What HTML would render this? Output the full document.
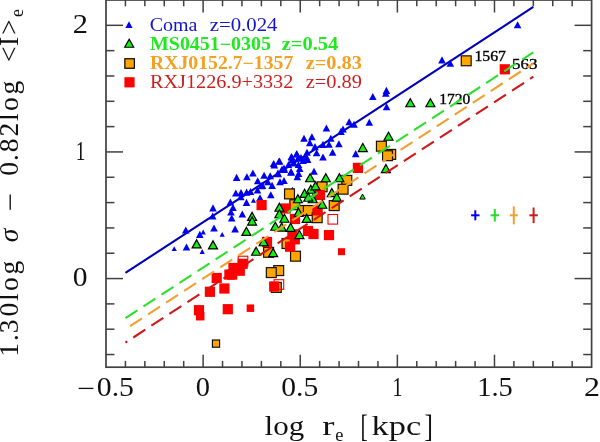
<!DOCTYPE html>
<html><head><meta charset="utf-8"><title>Fundamental plane</title>
<style>html,body{margin:0;padding:0;background:#fff;width:600px;height:442px;overflow:hidden}svg{display:block;will-change:transform}</style>
</head><body>
<svg xml:space="preserve" width="600" height="442" viewBox="0 0 600 442">
<polygon points="125.40,27.95 132.60,27.95 129.00,21.25" fill="#0000f0"/>
<polygon points="124.70,47.25 133.70,47.25 129.20,39.15" fill="#14f014" stroke="#000" stroke-width="1.2" stroke-linejoin="miter"/>
<rect x="124.85" y="58.75" width="9.5" height="9.5" fill="#ffa500" stroke="#000" stroke-width="1.2"/>
<rect x="124.40" y="77.20" width="10.2" height="10.2" fill="#ff0000"/>
<text x="149.7" y="30.5" textLength="47.8" lengthAdjust="spacingAndGlyphs" style="font-family:'Liberation Serif',serif;font-size:17.8px;fill:#1414c8">Coma</text>
<text x="209.7" y="30.5" textLength="67.8" lengthAdjust="spacingAndGlyphs" style="font-family:'Liberation Serif',serif;font-size:17.8px;fill:#1414c8">z=0.024</text>
<text x="150" y="50" textLength="121" lengthAdjust="spacingAndGlyphs" style="font-family:'Liberation Serif',serif;font-size:17.8px;fill:#22e822;font-weight:bold">MS0451−0305</text>
<text x="281.7" y="50" textLength="56.6" lengthAdjust="spacingAndGlyphs" style="font-family:'Liberation Serif',serif;font-size:17.8px;fill:#22e822;font-weight:bold">z=0.54</text>
<text x="150" y="68.7" textLength="143.3" lengthAdjust="spacingAndGlyphs" style="font-family:'Liberation Serif',serif;font-size:17.8px;fill:#f4a020;font-weight:bold">RXJ0152.7−1357</text>
<text x="305.7" y="68.7" textLength="56.3" lengthAdjust="spacingAndGlyphs" style="font-family:'Liberation Serif',serif;font-size:17.8px;fill:#f4a020;font-weight:bold">z=0.83</text>
<text x="150" y="87.5" textLength="143.3" lengthAdjust="spacingAndGlyphs" style="font-family:'Liberation Serif',serif;font-size:17.8px;fill:#d01e1e">RXJ1226.9+3332</text>
<text x="305.7" y="87.5" textLength="56.3" lengthAdjust="spacingAndGlyphs" style="font-family:'Liberation Serif',serif;font-size:17.8px;fill:#d01e1e">z=0.89</text>
<line x1="471.1" y1="215.3" x2="479.5" y2="215.3" stroke="#0000f0" stroke-width="2"/><line x1="475.3" y1="210.3" x2="475.3" y2="220.3" stroke="#0000f0" stroke-width="2"/>
<line x1="490.6" y1="215.3" x2="499.0" y2="215.3" stroke="#22dd22" stroke-width="2"/><line x1="494.8" y1="209.10000000000002" x2="494.8" y2="221.5" stroke="#22dd22" stroke-width="2"/>
<line x1="509.79999999999995" y1="215.3" x2="517.8" y2="215.3" stroke="#f0a030" stroke-width="2"/><line x1="513.8" y1="206.3" x2="513.8" y2="224.3" stroke="#f0a030" stroke-width="2"/>
<line x1="529.4" y1="215.3" x2="537.8000000000001" y2="215.3" stroke="#cc1a1a" stroke-width="2"/><line x1="533.6" y1="207.5" x2="533.6" y2="223.10000000000002" stroke="#cc1a1a" stroke-width="2"/>
<text x="474.4" y="60.8" textLength="31.6" lengthAdjust="spacingAndGlyphs" style="font-family:'Liberation Serif',serif;font-size:14px;fill:#000" stroke="#000" stroke-width="0.35">1567</text>
<text x="511.9" y="69.2" textLength="25.5" lengthAdjust="spacingAndGlyphs" style="font-family:'Liberation Serif',serif;font-size:14px;fill:#000" stroke="#000" stroke-width="0.35">563</text>
<text x="439.3" y="103.7" textLength="31" lengthAdjust="spacingAndGlyphs" style="font-family:'Liberation Serif',serif;font-size:14px;fill:#000" stroke="#000" stroke-width="0.35">1720</text>
<line x1="125.42" y1="272.87" x2="533.33" y2="6.96" stroke="#0000b8" stroke-width="2.1"/>
<polygon points="182.00,233.53 189.60,233.53 185.80,226.47" fill="#0000f0"/>
<polygon points="171.60,251.12 176.80,251.12 174.20,246.28" fill="#0000f0"/>
<polygon points="182.70,250.53 190.30,250.53 186.50,243.47" fill="#0000f0"/>
<polygon points="199.60,253.92 204.80,253.92 202.20,249.08" fill="#0000f0"/>
<polygon points="200.60,234.42 205.80,234.42 203.20,229.58" fill="#0000f0"/>
<polygon points="196.00,237.93 203.60,237.93 199.80,230.87" fill="#0000f0"/>
<polygon points="209.20,211.43 216.80,211.43 213.00,204.37" fill="#0000f0"/>
<polygon points="208.90,219.53 216.50,219.53 212.70,212.47" fill="#0000f0"/>
<polygon points="210.20,231.53 217.80,231.53 214.00,224.47" fill="#0000f0"/>
<polygon points="219.60,236.72 224.80,236.72 222.20,231.88" fill="#0000f0"/>
<polygon points="227.90,221.53 235.50,221.53 231.70,214.47" fill="#0000f0"/>
<polygon points="231.30,232.43 238.90,232.43 235.10,225.37" fill="#0000f0"/>
<polygon points="238.50,217.53 246.10,217.53 242.30,210.47" fill="#0000f0"/>
<polygon points="226.60,205.53 234.20,205.53 230.40,198.47" fill="#0000f0"/>
<polygon points="229.20,211.03 236.80,211.03 233.00,203.97" fill="#0000f0"/>
<polygon points="227.20,215.53 234.80,215.53 231.00,208.47" fill="#0000f0"/>
<polygon points="232.00,196.53 239.60,196.53 235.80,189.47" fill="#0000f0"/>
<polygon points="237.20,196.03 244.80,196.03 241.00,188.97" fill="#0000f0"/>
<polygon points="242.80,195.63 250.40,195.63 246.60,188.57" fill="#0000f0"/>
<polygon points="242.70,205.93 250.30,205.93 246.50,198.87" fill="#0000f0"/>
<polygon points="250.90,202.82 256.10,202.82 253.50,197.98" fill="#0000f0"/>
<polygon points="232.80,180.93 240.40,180.93 236.60,173.87" fill="#0000f0"/>
<polygon points="243.10,180.23 250.70,180.23 246.90,173.17" fill="#0000f0"/>
<polygon points="249.10,176.53 256.70,176.53 252.90,169.47" fill="#0000f0"/>
<polygon points="253.90,184.23 261.50,184.23 257.70,177.17" fill="#0000f0"/>
<polygon points="260.30,178.73 267.90,178.73 264.10,171.67" fill="#0000f0"/>
<polygon points="266.40,179.33 274.00,179.33 270.20,172.27" fill="#0000f0"/>
<polygon points="258.70,188.93 266.30,188.93 262.50,181.87" fill="#0000f0"/>
<polygon points="264.10,185.23 271.70,185.23 267.90,178.17" fill="#0000f0"/>
<polygon points="268.30,188.93 275.90,188.93 272.10,181.87" fill="#0000f0"/>
<polygon points="253.70,193.53 261.30,193.53 257.50,186.47" fill="#0000f0"/>
<polygon points="267.00,198.33 274.60,198.33 270.80,191.27" fill="#0000f0"/>
<polygon points="256.20,201.23 263.80,201.23 260.00,194.17" fill="#0000f0"/>
<polygon points="274.40,177.33 282.00,177.33 278.20,170.27" fill="#0000f0"/>
<polygon points="276.20,185.33 283.80,185.33 280.00,178.27" fill="#0000f0"/>
<polygon points="280.20,184.03 287.80,184.03 284.00,176.97" fill="#0000f0"/>
<polygon points="278.20,172.53 285.80,172.53 282.00,165.47" fill="#0000f0"/>
<polygon points="270.50,168.43 278.10,168.43 274.30,161.37" fill="#0000f0"/>
<polygon points="275.20,164.73 282.80,164.73 279.00,157.67" fill="#0000f0"/>
<polygon points="287.30,175.13 294.90,175.13 291.10,168.07" fill="#0000f0"/>
<polygon points="293.50,180.23 301.10,180.23 297.30,173.17" fill="#0000f0"/>
<polygon points="289.90,191.62 295.10,191.62 292.50,186.78" fill="#0000f0"/>
<polygon points="288.00,160.73 295.60,160.73 291.80,153.67" fill="#0000f0"/>
<polygon points="292.80,157.33 300.40,157.33 296.60,150.27" fill="#0000f0"/>
<polygon points="290.20,166.53 297.80,166.53 294.00,159.47" fill="#0000f0"/>
<polygon points="295.90,172.03 303.50,172.03 299.70,164.97" fill="#0000f0"/>
<polygon points="299.30,164.03 306.90,164.03 303.10,156.97" fill="#0000f0"/>
<polygon points="294.20,161.83 301.80,161.83 298.00,154.77" fill="#0000f0"/>
<polygon points="303.80,162.93 311.40,162.93 307.60,155.87" fill="#0000f0"/>
<polygon points="294.80,177.03 302.40,177.03 298.60,169.97" fill="#0000f0"/>
<polygon points="300.20,141.73 307.80,141.73 304.00,134.67" fill="#0000f0"/>
<polygon points="306.00,146.13 313.60,146.13 309.80,139.07" fill="#0000f0"/>
<polygon points="303.20,155.83 310.80,155.83 307.00,148.77" fill="#0000f0"/>
<polygon points="302.50,160.33 310.10,160.33 306.30,153.27" fill="#0000f0"/>
<polygon points="308.10,140.33 315.70,140.33 311.90,133.27" fill="#0000f0"/>
<polygon points="322.60,131.53 330.20,131.53 326.40,124.47" fill="#0000f0"/>
<polygon points="327.00,141.73 334.60,141.73 330.80,134.67" fill="#0000f0"/>
<polygon points="335.10,147.23 342.70,147.23 338.90,140.17" fill="#0000f0"/>
<polygon points="337.20,134.93 344.80,134.93 341.00,127.87" fill="#0000f0"/>
<polygon points="339.20,132.53 346.80,132.53 343.00,125.47" fill="#0000f0"/>
<polygon points="345.40,125.33 353.00,125.33 349.20,118.27" fill="#0000f0"/>
<polygon points="350.20,127.73 357.80,127.73 354.00,120.67" fill="#0000f0"/>
<polygon points="365.50,125.73 373.10,125.73 369.30,118.67" fill="#0000f0"/>
<polygon points="311.20,150.13 318.80,150.13 315.00,143.07" fill="#0000f0"/>
<polygon points="319.20,147.93 326.80,147.93 323.00,140.87" fill="#0000f0"/>
<polygon points="325.20,147.73 332.80,147.73 329.00,140.67" fill="#0000f0"/>
<polygon points="312.80,156.33 320.40,156.33 316.60,149.27" fill="#0000f0"/>
<polygon points="319.20,160.53 326.80,160.53 323.00,153.47" fill="#0000f0"/>
<polygon points="328.80,155.73 336.40,155.73 332.60,148.67" fill="#0000f0"/>
<polygon points="310.20,174.83 317.80,174.83 314.00,167.77" fill="#0000f0"/>
<polygon points="351.90,157.13 359.50,157.13 355.70,150.07" fill="#0000f0"/>
<polygon points="288.20,163.53 295.80,163.53 292.00,156.47" fill="#0000f0"/>
<polygon points="294.70,168.03 302.30,168.03 298.50,160.97" fill="#0000f0"/>
<polygon points="297.20,161.03 304.80,161.03 301.00,153.97" fill="#0000f0"/>
<polygon points="284.70,168.03 292.30,168.03 288.50,160.97" fill="#0000f0"/>
<polygon points="280.20,171.53 287.80,171.53 284.00,164.47" fill="#0000f0"/>
<polygon points="275.70,164.53 283.30,164.53 279.50,157.47" fill="#0000f0"/>
<polygon points="269.80,167.03 277.40,167.03 273.60,159.97" fill="#0000f0"/>
<polygon points="280.50,173.03 288.10,173.03 284.30,165.97" fill="#0000f0"/>
<polygon points="274.10,176.53 281.70,176.53 277.90,169.47" fill="#0000f0"/>
<polygon points="287.20,175.83 294.80,175.83 291.00,168.77" fill="#0000f0"/>
<polygon points="293.10,157.53 300.70,157.53 296.90,150.47" fill="#0000f0"/>
<polygon points="287.60,160.03 295.20,160.03 291.40,152.97" fill="#0000f0"/>
<polygon points="237.00,200.23 244.60,200.23 240.80,193.17" fill="#0000f0"/>
<polygon points="246.70,195.03 254.30,195.03 250.50,187.97" fill="#0000f0"/>
<polygon points="257.60,189.13 265.20,189.13 261.40,182.07" fill="#0000f0"/>
<polygon points="369.00,100.03 376.60,100.03 372.80,92.97" fill="#0000f0"/>
<polygon points="382.60,93.93 390.20,93.93 386.40,86.87" fill="#0000f0"/>
<polygon points="382.00,96.83 389.60,96.83 385.80,89.77" fill="#0000f0"/>
<polygon points="382.80,110.23 390.40,110.23 386.60,103.17" fill="#0000f0"/>
<polygon points="438.20,63.43 445.80,63.43 442.00,56.37" fill="#0000f0"/>
<polygon points="446.50,66.73 454.10,66.73 450.30,59.67" fill="#0000f0"/>
<polygon points="513.80,28.23 521.40,28.23 517.60,21.17" fill="#0000f0"/>
<rect x="284.55" y="188.95" width="9.9" height="9.9" fill="#ffa500" stroke="#1a1000" stroke-width="1.2"/>
<rect x="317.15" y="181.85" width="9.9" height="9.9" fill="#ffa500" stroke="#1a1000" stroke-width="1.2"/>
<rect x="341.85" y="175.45" width="9.9" height="9.9" fill="#ffa500" stroke="#1a1000" stroke-width="1.2"/>
<rect x="338.15" y="184.25" width="9.9" height="9.9" fill="#ffa500" stroke="#1a1000" stroke-width="1.2"/>
<rect x="289.85" y="199.75" width="9.9" height="9.9" fill="#ffa500" stroke="#1a1000" stroke-width="1.2"/>
<rect x="297.85" y="205.55" width="9.9" height="9.9" fill="#ffa500" stroke="#1a1000" stroke-width="1.2"/>
<rect x="303.35" y="205.55" width="9.9" height="9.9" fill="#ffa500" stroke="#1a1000" stroke-width="1.2"/>
<rect x="312.25" y="212.75" width="9.9" height="9.9" fill="#ffa500" stroke="#1a1000" stroke-width="1.2"/>
<rect x="329.25" y="200.65" width="9.9" height="9.9" fill="#ffa500" stroke="#1a1000" stroke-width="1.2"/>
<rect x="376.45" y="141.25" width="9.9" height="9.9" fill="#ffa500" stroke="#1a1000" stroke-width="1.2"/>
<rect x="385.75" y="149.45" width="9.9" height="9.9" fill="#ffa500" stroke="#1a1000" stroke-width="1.2"/>
<rect x="382.55" y="150.75" width="9.9" height="9.9" fill="#ffa500" stroke="#1a1000" stroke-width="1.2"/>
<rect x="263.65" y="247.35" width="9.9" height="9.9" fill="#ffa500" stroke="#1a1000" stroke-width="1.2"/>
<rect x="282.05" y="238.55" width="9.9" height="9.9" fill="#ffa500" stroke="#1a1000" stroke-width="1.2"/>
<rect x="290.55" y="251.25" width="9.9" height="9.9" fill="#ffa500" stroke="#1a1000" stroke-width="1.2"/>
<rect x="273.75" y="265.65" width="9.9" height="9.9" fill="#ffa500" stroke="#1a1000" stroke-width="1.2"/>
<rect x="266.35" y="267.65" width="9.9" height="9.9" fill="#ffa500" stroke="#1a1000" stroke-width="1.2"/>
<rect x="271.35" y="282.45" width="9.9" height="9.9" fill="#ffa500" stroke="#1a1000" stroke-width="1.2"/>
<rect x="461.25" y="55.85" width="9.9" height="9.9" fill="#ffa500" stroke="#1a1000" stroke-width="1.2"/>
<rect x="212.40" y="340.00" width="7.2" height="7.2" fill="#ffa500" stroke="#000" stroke-width="1.1"/>
<rect x="328.00" y="214.50" width="9.6" height="9.6" fill="none" stroke="#ff0000" stroke-width="1.1"/>
<rect x="274.10" y="279.70" width="9.6" height="9.6" fill="none" stroke="#ff0000" stroke-width="1.1"/>
<rect x="238.20" y="256.20" width="9.6" height="9.6" fill="none" stroke="#ff0000" stroke-width="1.1"/>
<rect x="499.70" y="64.20" width="10.2" height="10.2" fill="#ff0000"/>
<rect x="352.80" y="162.80" width="10.2" height="10.2" fill="#ff0000"/>
<rect x="256.50" y="200.00" width="10.2" height="10.2" fill="#ff0000"/>
<rect x="280.50" y="203.40" width="10.2" height="10.2" fill="#ff0000"/>
<rect x="314.90" y="189.90" width="10.2" height="10.2" fill="#ff0000"/>
<rect x="289.90" y="213.90" width="10.2" height="10.2" fill="#ff0000"/>
<rect x="312.50" y="205.30" width="10.2" height="10.2" fill="#ff0000"/>
<rect x="302.90" y="225.90" width="10.2" height="10.2" fill="#ff0000"/>
<rect x="308.40" y="228.90" width="10.2" height="10.2" fill="#ff0000"/>
<rect x="323.90" y="230.00" width="10.2" height="10.2" fill="#ff0000"/>
<rect x="287.30" y="229.20" width="10.2" height="10.2" fill="#ff0000"/>
<rect x="261.90" y="236.90" width="10.2" height="10.2" fill="#ff0000"/>
<rect x="285.00" y="241.60" width="10.2" height="10.2" fill="#ff0000"/>
<rect x="289.70" y="234.20" width="10.2" height="10.2" fill="#ff0000"/>
<rect x="269.10" y="281.40" width="10.2" height="10.2" fill="#ff0000"/>
<rect x="211.60" y="272.90" width="10.2" height="10.2" fill="#ff0000"/>
<rect x="204.80" y="286.70" width="10.2" height="10.2" fill="#ff0000"/>
<rect x="219.30" y="283.40" width="10.2" height="10.2" fill="#ff0000"/>
<rect x="193.90" y="305.10" width="10.2" height="10.2" fill="#ff0000"/>
<rect x="222.70" y="304.10" width="10.2" height="10.2" fill="#ff0000"/>
<rect x="246.65" y="304.45" width="7.5" height="7.5" fill="#ff0000"/>
<rect x="195.95" y="311.95" width="8.5" height="8.5" fill="#ff0000"/>
<rect x="338.00" y="248.20" width="7" height="7" fill="#ff0000"/>
<polygon points="192.10,247.95 201.10,247.95 196.60,239.85" fill="#14f014" stroke="#000" stroke-width="1.2" stroke-linejoin="miter"/>
<polygon points="208.50,248.95 217.50,248.95 213.00,240.85" fill="#14f014" stroke="#000" stroke-width="1.2" stroke-linejoin="miter"/>
<polygon points="247.60,220.45 256.60,220.45 252.10,212.35" fill="#14f014" stroke="#000" stroke-width="1.2" stroke-linejoin="miter"/>
<polygon points="247.60,225.15 256.60,225.15 252.10,217.05" fill="#14f014" stroke="#000" stroke-width="1.2" stroke-linejoin="miter"/>
<polygon points="241.90,235.35 250.90,235.35 246.40,227.25" fill="#14f014" stroke="#000" stroke-width="1.2" stroke-linejoin="miter"/>
<polygon points="274.90,211.25 283.90,211.25 279.40,203.15" fill="#14f014" stroke="#000" stroke-width="1.2" stroke-linejoin="miter"/>
<polygon points="274.90,217.75 283.90,217.75 279.40,209.65" fill="#14f014" stroke="#000" stroke-width="1.2" stroke-linejoin="miter"/>
<polygon points="279.90,222.25 288.90,222.25 284.40,214.15" fill="#14f014" stroke="#000" stroke-width="1.2" stroke-linejoin="miter"/>
<polygon points="270.80,230.25 279.80,230.25 275.30,222.15" fill="#14f014" stroke="#000" stroke-width="1.2" stroke-linejoin="miter"/>
<polygon points="277.20,231.05 286.20,231.05 281.70,222.95" fill="#14f014" stroke="#000" stroke-width="1.2" stroke-linejoin="miter"/>
<polygon points="286.10,231.35 295.10,231.35 290.60,223.25" fill="#14f014" stroke="#000" stroke-width="1.2" stroke-linejoin="miter"/>
<polygon points="294.00,216.35 303.00,216.35 298.50,208.25" fill="#14f014" stroke="#000" stroke-width="1.2" stroke-linejoin="miter"/>
<polygon points="293.40,202.75 302.40,202.75 297.90,194.65" fill="#14f014" stroke="#000" stroke-width="1.2" stroke-linejoin="miter"/>
<polygon points="300.10,197.35 309.10,197.35 304.60,189.25" fill="#14f014" stroke="#000" stroke-width="1.2" stroke-linejoin="miter"/>
<polygon points="306.30,193.25 315.30,193.25 310.80,185.15" fill="#14f014" stroke="#000" stroke-width="1.2" stroke-linejoin="miter"/>
<polygon points="311.00,189.85 320.00,189.85 315.50,181.75" fill="#14f014" stroke="#000" stroke-width="1.2" stroke-linejoin="miter"/>
<polygon points="308.30,202.75 317.30,202.75 312.80,194.65" fill="#14f014" stroke="#000" stroke-width="1.2" stroke-linejoin="miter"/>
<polygon points="303.80,201.05 312.80,201.05 308.30,192.95" fill="#14f014" stroke="#000" stroke-width="1.2" stroke-linejoin="miter"/>
<polygon points="317.80,208.25 326.80,208.25 322.30,200.15" fill="#14f014" stroke="#000" stroke-width="1.2" stroke-linejoin="miter"/>
<polygon points="302.20,222.45 311.20,222.45 306.70,214.35" fill="#14f014" stroke="#000" stroke-width="1.2" stroke-linejoin="miter"/>
<polygon points="294.90,238.55 303.90,238.55 299.40,230.45" fill="#14f014" stroke="#000" stroke-width="1.2" stroke-linejoin="miter"/>
<polygon points="327.30,196.65 336.30,196.65 331.80,188.55" fill="#14f014" stroke="#000" stroke-width="1.2" stroke-linejoin="miter"/>
<polygon points="332.30,201.05 341.30,201.05 336.80,192.95" fill="#14f014" stroke="#000" stroke-width="1.2" stroke-linejoin="miter"/>
<polygon points="305.60,181.75 314.60,181.75 310.10,173.65" fill="#14f014" stroke="#000" stroke-width="1.2" stroke-linejoin="miter"/>
<polygon points="321.30,181.75 330.30,181.75 325.80,173.65" fill="#14f014" stroke="#000" stroke-width="1.2" stroke-linejoin="miter"/>
<polygon points="334.90,181.75 343.90,181.75 339.40,173.65" fill="#14f014" stroke="#000" stroke-width="1.2" stroke-linejoin="miter"/>
<polygon points="358.30,151.55 367.30,151.55 362.80,143.45" fill="#14f014" stroke="#000" stroke-width="1.2" stroke-linejoin="miter"/>
<polygon points="384.00,140.25 393.00,140.25 388.50,132.15" fill="#14f014" stroke="#000" stroke-width="1.2" stroke-linejoin="miter"/>
<polygon points="381.40,172.55 390.40,172.55 385.90,164.45" fill="#14f014" stroke="#000" stroke-width="1.2" stroke-linejoin="miter"/>
<polygon points="405.80,106.75 414.80,106.75 410.30,98.65" fill="#14f014" stroke="#000" stroke-width="1.2" stroke-linejoin="miter"/>
<polygon points="425.90,106.75 434.90,106.75 430.40,98.65" fill="#14f014" stroke="#000" stroke-width="1.2" stroke-linejoin="miter"/>
<polygon points="259.10,245.75 268.10,245.75 263.60,237.65" fill="#14f014" stroke="#000" stroke-width="1.2" stroke-linejoin="miter"/>
<polygon points="251.60,255.25 260.60,255.25 256.10,247.15" fill="#14f014" stroke="#000" stroke-width="1.2" stroke-linejoin="miter"/>
<polygon points="268.60,256.65 277.60,256.65 273.10,248.55" fill="#14f014" stroke="#000" stroke-width="1.2" stroke-linejoin="miter"/>
<polygon points="359.75,199.07 365.25,199.07 362.50,194.12" fill="#14f014" stroke="#000" stroke-width="1.0" stroke-linejoin="miter"/>
<line x1="125.42" y1="318.20" x2="533.33" y2="52.29" stroke="#2de02d" stroke-width="2.1" stroke-dasharray="14.3 7.23" stroke-dashoffset="0"/>
<line x1="125.42" y1="329.21" x2="533.33" y2="63.31" stroke="#f0a030" stroke-width="2.1" stroke-dasharray="14.3 7.23" stroke-dashoffset="16.03"/>
<line x1="125.42" y1="342.64" x2="533.33" y2="76.73" stroke="#d01818" stroke-width="2.1" stroke-dasharray="14.3 7.23" stroke-dashoffset="12.11"/>
<rect x="237.60" y="258.70" width="10.2" height="10.2" fill="#ff0000"/>
<rect x="234.70" y="265.60" width="10.2" height="10.2" fill="#ff0000"/>
<rect x="228.40" y="262.90" width="10.2" height="10.2" fill="#ff0000"/>
<rect x="224.30" y="269.50" width="10.2" height="10.2" fill="#ff0000"/>
<rect x="227.10" y="269.50" width="10.2" height="10.2" fill="#ff0000"/>
<rect x="106.0" y="0.0" width="485.6" height="367.2" fill="none" stroke="#404040" stroke-width="1.7"/>
<line x1="125.42" y1="367.2" x2="125.42" y2="360.9" stroke="#404040" stroke-width="1.5"/>
<line x1="125.42" y1="0.0" x2="125.42" y2="6.3" stroke="#404040" stroke-width="1.5"/>
<line x1="144.85" y1="367.2" x2="144.85" y2="360.9" stroke="#404040" stroke-width="1.5"/>
<line x1="144.85" y1="0.0" x2="144.85" y2="6.3" stroke="#404040" stroke-width="1.5"/>
<line x1="164.27" y1="367.2" x2="164.27" y2="360.9" stroke="#404040" stroke-width="1.5"/>
<line x1="164.27" y1="0.0" x2="164.27" y2="6.3" stroke="#404040" stroke-width="1.5"/>
<line x1="183.70" y1="367.2" x2="183.70" y2="360.9" stroke="#404040" stroke-width="1.5"/>
<line x1="183.70" y1="0.0" x2="183.70" y2="6.3" stroke="#404040" stroke-width="1.5"/>
<line x1="203.12" y1="367.2" x2="203.12" y2="354.7" stroke="#404040" stroke-width="1.5"/>
<line x1="203.12" y1="0.0" x2="203.12" y2="12.5" stroke="#404040" stroke-width="1.5"/>
<line x1="222.54" y1="367.2" x2="222.54" y2="360.9" stroke="#404040" stroke-width="1.5"/>
<line x1="222.54" y1="0.0" x2="222.54" y2="6.3" stroke="#404040" stroke-width="1.5"/>
<line x1="241.97" y1="367.2" x2="241.97" y2="360.9" stroke="#404040" stroke-width="1.5"/>
<line x1="241.97" y1="0.0" x2="241.97" y2="6.3" stroke="#404040" stroke-width="1.5"/>
<line x1="261.39" y1="367.2" x2="261.39" y2="360.9" stroke="#404040" stroke-width="1.5"/>
<line x1="261.39" y1="0.0" x2="261.39" y2="6.3" stroke="#404040" stroke-width="1.5"/>
<line x1="280.82" y1="367.2" x2="280.82" y2="360.9" stroke="#404040" stroke-width="1.5"/>
<line x1="280.82" y1="0.0" x2="280.82" y2="6.3" stroke="#404040" stroke-width="1.5"/>
<line x1="300.24" y1="367.2" x2="300.24" y2="354.7" stroke="#404040" stroke-width="1.5"/>
<line x1="300.24" y1="0.0" x2="300.24" y2="12.5" stroke="#404040" stroke-width="1.5"/>
<line x1="319.66" y1="367.2" x2="319.66" y2="360.9" stroke="#404040" stroke-width="1.5"/>
<line x1="319.66" y1="0.0" x2="319.66" y2="6.3" stroke="#404040" stroke-width="1.5"/>
<line x1="339.09" y1="367.2" x2="339.09" y2="360.9" stroke="#404040" stroke-width="1.5"/>
<line x1="339.09" y1="0.0" x2="339.09" y2="6.3" stroke="#404040" stroke-width="1.5"/>
<line x1="358.51" y1="367.2" x2="358.51" y2="360.9" stroke="#404040" stroke-width="1.5"/>
<line x1="358.51" y1="0.0" x2="358.51" y2="6.3" stroke="#404040" stroke-width="1.5"/>
<line x1="377.94" y1="367.2" x2="377.94" y2="360.9" stroke="#404040" stroke-width="1.5"/>
<line x1="377.94" y1="0.0" x2="377.94" y2="6.3" stroke="#404040" stroke-width="1.5"/>
<line x1="397.36" y1="367.2" x2="397.36" y2="354.7" stroke="#404040" stroke-width="1.5"/>
<line x1="397.36" y1="0.0" x2="397.36" y2="12.5" stroke="#404040" stroke-width="1.5"/>
<line x1="416.78" y1="367.2" x2="416.78" y2="360.9" stroke="#404040" stroke-width="1.5"/>
<line x1="416.78" y1="0.0" x2="416.78" y2="6.3" stroke="#404040" stroke-width="1.5"/>
<line x1="436.21" y1="367.2" x2="436.21" y2="360.9" stroke="#404040" stroke-width="1.5"/>
<line x1="436.21" y1="0.0" x2="436.21" y2="6.3" stroke="#404040" stroke-width="1.5"/>
<line x1="455.63" y1="367.2" x2="455.63" y2="360.9" stroke="#404040" stroke-width="1.5"/>
<line x1="455.63" y1="0.0" x2="455.63" y2="6.3" stroke="#404040" stroke-width="1.5"/>
<line x1="475.06" y1="367.2" x2="475.06" y2="360.9" stroke="#404040" stroke-width="1.5"/>
<line x1="475.06" y1="0.0" x2="475.06" y2="6.3" stroke="#404040" stroke-width="1.5"/>
<line x1="494.48" y1="367.2" x2="494.48" y2="354.7" stroke="#404040" stroke-width="1.5"/>
<line x1="494.48" y1="0.0" x2="494.48" y2="12.5" stroke="#404040" stroke-width="1.5"/>
<line x1="513.90" y1="367.2" x2="513.90" y2="360.9" stroke="#404040" stroke-width="1.5"/>
<line x1="513.90" y1="0.0" x2="513.90" y2="6.3" stroke="#404040" stroke-width="1.5"/>
<line x1="533.33" y1="367.2" x2="533.33" y2="360.9" stroke="#404040" stroke-width="1.5"/>
<line x1="533.33" y1="0.0" x2="533.33" y2="6.3" stroke="#404040" stroke-width="1.5"/>
<line x1="552.75" y1="367.2" x2="552.75" y2="360.9" stroke="#404040" stroke-width="1.5"/>
<line x1="552.75" y1="0.0" x2="552.75" y2="6.3" stroke="#404040" stroke-width="1.5"/>
<line x1="572.18" y1="367.2" x2="572.18" y2="360.9" stroke="#404040" stroke-width="1.5"/>
<line x1="572.18" y1="0.0" x2="572.18" y2="6.3" stroke="#404040" stroke-width="1.5"/>
<line x1="106.0" y1="354.54" x2="114.4" y2="354.54" stroke="#404040" stroke-width="1.5"/>
<line x1="591.6" y1="354.54" x2="583.2" y2="354.54" stroke="#404040" stroke-width="1.5"/>
<line x1="106.0" y1="329.21" x2="114.4" y2="329.21" stroke="#404040" stroke-width="1.5"/>
<line x1="591.6" y1="329.21" x2="583.2" y2="329.21" stroke="#404040" stroke-width="1.5"/>
<line x1="106.0" y1="303.89" x2="114.4" y2="303.89" stroke="#404040" stroke-width="1.5"/>
<line x1="591.6" y1="303.89" x2="583.2" y2="303.89" stroke="#404040" stroke-width="1.5"/>
<line x1="106.0" y1="278.57" x2="123.0" y2="278.57" stroke="#404040" stroke-width="1.5"/>
<line x1="591.6" y1="278.57" x2="574.6" y2="278.57" stroke="#404040" stroke-width="1.5"/>
<line x1="106.0" y1="253.24" x2="114.4" y2="253.24" stroke="#404040" stroke-width="1.5"/>
<line x1="591.6" y1="253.24" x2="583.2" y2="253.24" stroke="#404040" stroke-width="1.5"/>
<line x1="106.0" y1="227.92" x2="114.4" y2="227.92" stroke="#404040" stroke-width="1.5"/>
<line x1="591.6" y1="227.92" x2="583.2" y2="227.92" stroke="#404040" stroke-width="1.5"/>
<line x1="106.0" y1="202.59" x2="114.4" y2="202.59" stroke="#404040" stroke-width="1.5"/>
<line x1="591.6" y1="202.59" x2="583.2" y2="202.59" stroke="#404040" stroke-width="1.5"/>
<line x1="106.0" y1="177.27" x2="114.4" y2="177.27" stroke="#404040" stroke-width="1.5"/>
<line x1="591.6" y1="177.27" x2="583.2" y2="177.27" stroke="#404040" stroke-width="1.5"/>
<line x1="106.0" y1="151.94" x2="123.0" y2="151.94" stroke="#404040" stroke-width="1.5"/>
<line x1="591.6" y1="151.94" x2="574.6" y2="151.94" stroke="#404040" stroke-width="1.5"/>
<line x1="106.0" y1="126.62" x2="114.4" y2="126.62" stroke="#404040" stroke-width="1.5"/>
<line x1="591.6" y1="126.62" x2="583.2" y2="126.62" stroke="#404040" stroke-width="1.5"/>
<line x1="106.0" y1="101.30" x2="114.4" y2="101.30" stroke="#404040" stroke-width="1.5"/>
<line x1="591.6" y1="101.30" x2="583.2" y2="101.30" stroke="#404040" stroke-width="1.5"/>
<line x1="106.0" y1="75.97" x2="114.4" y2="75.97" stroke="#404040" stroke-width="1.5"/>
<line x1="591.6" y1="75.97" x2="583.2" y2="75.97" stroke="#404040" stroke-width="1.5"/>
<line x1="106.0" y1="50.65" x2="114.4" y2="50.65" stroke="#404040" stroke-width="1.5"/>
<line x1="591.6" y1="50.65" x2="583.2" y2="50.65" stroke="#404040" stroke-width="1.5"/>
<line x1="106.0" y1="25.32" x2="123.0" y2="25.32" stroke="#404040" stroke-width="1.5"/>
<line x1="591.6" y1="25.32" x2="574.6" y2="25.32" stroke="#404040" stroke-width="1.5"/>
<text x="96.8" y="396.2" textLength="37.2" lengthAdjust="spacingAndGlyphs" style="font-family:'Liberation Serif',serif;font-size:27.5px;fill:#111">0.5</text>
<text x="195.8" y="396.2" textLength="14.2" lengthAdjust="spacingAndGlyphs" style="font-family:'Liberation Serif',serif;font-size:27.5px;fill:#111">0</text>
<text x="281.2" y="396.2" textLength="37" lengthAdjust="spacingAndGlyphs" style="font-family:'Liberation Serif',serif;font-size:27.5px;fill:#111">0.5</text>
<text x="392.6" y="396.2" textLength="10" lengthAdjust="spacingAndGlyphs" style="font-family:'Liberation Serif',serif;font-size:27.5px;fill:#111">1</text>
<text x="477.2" y="396.2" textLength="35.5" lengthAdjust="spacingAndGlyphs" style="font-family:'Liberation Serif',serif;font-size:27.5px;fill:#111">1.5</text>
<text x="583.9" y="396.2" textLength="16" lengthAdjust="spacingAndGlyphs" style="font-family:'Liberation Serif',serif;font-size:27.5px;fill:#111">2</text>
<line x1="78.6" y1="388.4" x2="93.4" y2="388.4" stroke="#111" stroke-width="1.3"/>
<text x="72.8" y="33.0" textLength="15.2" lengthAdjust="spacingAndGlyphs" style="font-family:'Liberation Serif',serif;font-size:27.5px;fill:#111">2</text>
<text x="75.8" y="160.0" textLength="9.6" lengthAdjust="spacingAndGlyphs" style="font-family:'Liberation Serif',serif;font-size:27.5px;fill:#111">1</text>
<text x="72.8" y="286.2" textLength="14.8" lengthAdjust="spacingAndGlyphs" style="font-family:'Liberation Serif',serif;font-size:27.5px;fill:#111">0</text>
<text x="264.6" y="435.3" textLength="39.6" lengthAdjust="spacingAndGlyphs" style="font-family:'Liberation Serif',serif;font-size:27.5px;fill:#111">log</text>
<text x="322.2" y="435.3" textLength="12.2" lengthAdjust="spacingAndGlyphs" style="font-family:'Liberation Serif',serif;font-size:27.5px;fill:#111">r</text>
<text x="335.2" y="440.5" textLength="8.2" lengthAdjust="spacingAndGlyphs" style="font-family:'Liberation Serif',serif;font-size:18px;fill:#111">e</text>
<text x="360.4" y="437.1" textLength="7.2" lengthAdjust="spacingAndGlyphs" style="font-family:'Liberation Serif',serif;font-size:31px;fill:#111">[</text>
<text x="371.6" y="435.3" textLength="49.6" lengthAdjust="spacingAndGlyphs" style="font-family:'Liberation Serif',serif;font-size:27.5px;fill:#111">kpc</text>
<text x="424.4" y="437.1" textLength="8.4" lengthAdjust="spacingAndGlyphs" style="font-family:'Liberation Serif',serif;font-size:31px;fill:#111">]</text>
<text transform="translate(18.1,0) rotate(-90)" x="-349.75 -337.50 -326.30 -309.50 -297.25 -284.00 -267.70 -235.40 -168.90 -157.50 -145.25 -129.50 -117.25 -104.00 -87.70 -54.25 -41.40 -27.20" y="0" text-anchor="middle" style="font-family:'Liberation Serif',serif;font-size:27.5px;fill:#111">1.30log<tspan font-style="italic">σ</tspan>0.82log&lt;I&gt;</text>
<line x1="10.2" y1="194.4" x2="10.2" y2="209.8" stroke="#111" stroke-width="1.35"/>
<text transform="translate(23.0,0) rotate(-90)" x="-12.9" y="0" text-anchor="middle" style="font-family:'Liberation Serif',serif;font-size:18px;fill:#111">e</text>
</svg>
</body></html>
